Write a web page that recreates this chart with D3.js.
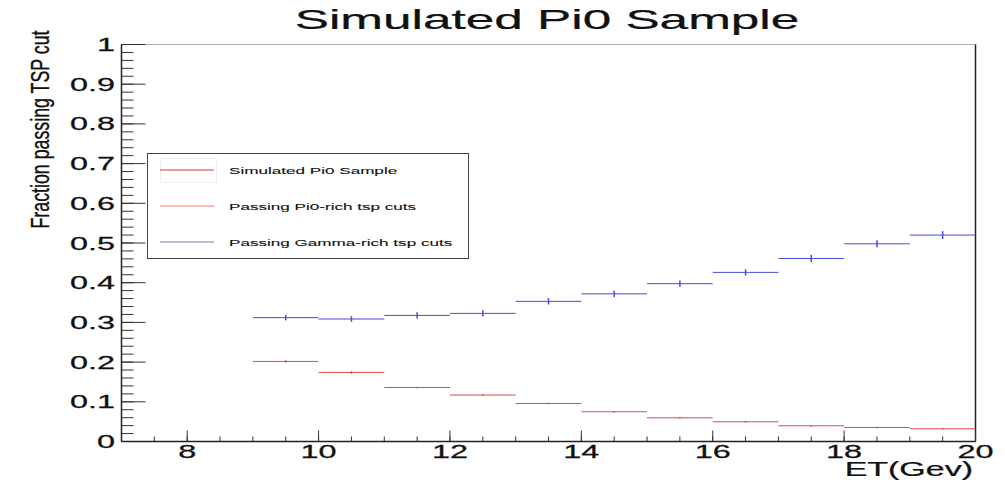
<!DOCTYPE html>
<html>
<head>
<meta charset="utf-8">
<script src="https://cdn.jsdelivr.net/npm/d3@7"></script>
<style>
  body { margin: 0; background: #fff; }
  svg text { font-family: "Liberation Sans", Arial, sans-serif; fill: #111; stroke: #111; stroke-width: 0.25px; }
</style>
</head>
<body>
<svg id="chart" width="1005" height="482"></svg>
<script>
// data
var binEdges = [9, 10, 11, 12, 13, 14, 15, 16, 17, 18, 19, 20];
var pi0Rich = [0.2017, 0.174, 0.136, 0.117, 0.0958, 0.075, 0.0597, 0.0497, 0.0396, 0.0353, 0.032];
var pi0RichErr = [0.003, 0.003, 0.002, 0.002, 0.002, 0.002, 0.002, 0.002, 0.002, 0.002, 0.002];
var gammaRich = [0.312, 0.3085, 0.3176, 0.3227, 0.353, 0.372, 0.3975, 0.426, 0.461, 0.498, 0.520];
var gammaRichErr = [0.007, 0.007, 0.008, 0.008, 0.008, 0.008, 0.008, 0.008, 0.009, 0.009, 0.01];

var yTicks = [0, 0.1, 0.2, 0.3, 0.4, 0.5, 0.6, 0.7, 0.8, 0.9, 1];
var yTickLabels = ["0", "0.1", "0.2", "0.3", "0.4", "0.5", "0.6", "0.7", "0.8", "0.9", "1"];
var xTicks = [8, 10, 12, 14, 16, 18, 20];
var xTickLabels = ["8", "10", "12", "14", "16", "18", "20"];

var legendNames = ["Simulated Pi0 Sample", "Passing Pi0-rich tsp cuts", "Passing Gamma-rich tsp cuts"];
var legendColors = ["#d83434", "#f07a7a", "#7c7cc4"];

var svg = d3.select('#chart');

var x = d3.scaleLinear().domain([7, 20]).range([121.5, 975.5]);
var y = d3.scaleLinear().domain([0, 1]).range([441.5, 44.5]);

// text looks stretched sideways in the picture, so every label gets its own x scale
function label(str, px, py, size, sx, anchor) {
    return svg.append('text')
        .attr('transform', 'translate(' + px + ',' + py + ') scale(' + sx + ',1)')
        .attr('text-anchor', anchor)
        .style('font-size', size + 'px')
        .text(str);
}

// frame
svg.append('line').attr('x1', x(7)).attr('x2', x(20)).attr('y1', y(1)).attr('y2', y(1))
    .attr('stroke', '#b0b0b0').attr('stroke-width', 1);
svg.append('line').attr('x1', x(20)).attr('x2', x(20)).attr('y1', y(1)).attr('y2', y(0))
    .attr('stroke', '#222').attr('stroke-width', 1.5);

// y ticks
var yMinor = d3.range(0, 51).map(function (i) { return i / 50; });
svg.selectAll('.yminor').data(yMinor).enter().append('line')
    .attr('x1', x(7)).attr('x2', x(7) + 12)
    .attr('y1', function (d) { return y(d); }).attr('y2', function (d) { return y(d); })
    .attr('stroke', '#333').attr('stroke-width', 1);
svg.selectAll('.ymajor').data(yTicks).enter().append('line')
    .attr('x1', x(7)).attr('x2', x(7) + 24)
    .attr('y1', function (d) { return y(d); }).attr('y2', function (d) { return y(d); })
    .attr('stroke', '#333').attr('stroke-width', 1);
yTicks.forEach(function (d, i) {
    label(yTickLabels[i], 115, y(d) + 6.5, 17.5, 1.85, 'end');
});

// x ticks
var xMinor = d3.range(14, 41).map(function (i) { return i / 2; });
svg.selectAll('.xminor').data(xMinor).enter().append('line')
    .attr('x1', function (d) { return x(d); }).attr('x2', function (d) { return x(d); })
    .attr('y1', y(0)).attr('y2', y(0) - 5)
    .attr('stroke', '#333').attr('stroke-width', 1);
svg.selectAll('.xmajor').data(xTicks).enter().append('line')
    .attr('x1', function (d) { return x(d); }).attr('x2', function (d) { return x(d); })
    .attr('y1', y(0)).attr('y2', y(0) - 11)
    .attr('stroke', '#333').attr('stroke-width', 1);
xTicks.forEach(function (d, i) {
    label(xTickLabels[i], x(d), 458, 17.5, 1.85, 'middle');
});

// axis lines
svg.append('line').attr('x1', x(7)).attr('x2', x(7)).attr('y1', y(1)).attr('y2', y(0))
    .attr('stroke', '#222').attr('stroke-width', 1.5);
svg.append('line').attr('x1', x(7)).attr('x2', x(20)).attr('y1', y(0)).attr('y2', y(0))
    .attr('stroke', '#222').attr('stroke-width', 1.5);

// histograms drawn ROOT "E" style: bin-wide line plus vertical error
function drawHist(vals, errs, color) {
    var g = svg.append('g');
    g.selectAll('.h').data(vals).enter().append('line')
        .attr('x1', function (d, i) { return x(binEdges[i]); })
        .attr('x2', function (d, i) { return x(binEdges[i + 1]); })
        .attr('y1', function (d) { return y(d); }).attr('y2', function (d) { return y(d); })
        .attr('stroke', color).attr('stroke-width', 1);
    g.selectAll('.e').data(vals).enter().append('line')
        .attr('x1', function (d, i) { return x((binEdges[i] + binEdges[i + 1]) / 2); })
        .attr('x2', function (d, i) { return x((binEdges[i] + binEdges[i + 1]) / 2); })
        .attr('y1', function (d, i) { return y(d - errs[i]); })
        .attr('y2', function (d, i) { return y(d + errs[i]); })
        .attr('stroke', color).attr('stroke-width', 1.5);
}
drawHist(pi0Rich, pi0RichErr, '#e04848');
drawHist(gammaRich, gammaRichErr, '#4a4ae0');

// legend
svg.append('rect').attr('x', 147.5).attr('y', 153.5).attr('width', 321).attr('height', 105)
    .attr('fill', '#fff').attr('stroke', '#444').attr('stroke-width', 1);
svg.append('rect').attr('x', 160.5).attr('y', 158.5).attr('width', 56).attr('height', 24)
    .attr('fill', 'none').attr('stroke', '#efefef').attr('stroke-width', 1);
legendNames.forEach(function (name, i) {
    var ly = 170 + i * 36;
    svg.append('line').attr('x1', 160).attr('x2', 214).attr('y1', ly).attr('y2', ly)
        .attr('stroke', legendColors[i]).attr('stroke-width', 1.2);
    label(name, 229, ly + 3.5, 9.5, 1.8, 'start').style('stroke-width', '0.1px');
});

// titles
label('Simulated Pi0 Sample', 547, 29, 28.5, 1.8, 'middle');
label('ET(Gev)', 973, 476, 20, 1.7, 'end');
svg.append('text')
    .attr('transform', 'translate(49,129.5) scale(1.4,1) rotate(-90)')
    .attr('text-anchor', 'middle')
    .style('font-size', '17.8px')
    .text('Fraction passing TSP cut');
</script>
</body>
</html>
